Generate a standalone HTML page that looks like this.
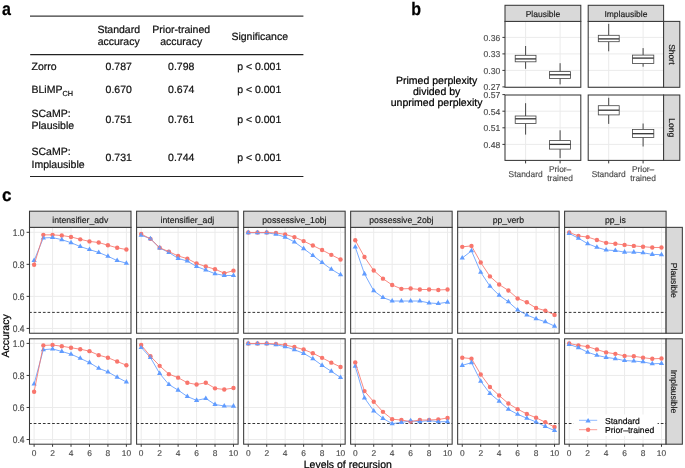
<!DOCTYPE html>
<html><head><meta charset="utf-8"><style>
html,body{margin:0;padding:0;background:#fff;}
svg{display:block;font-family:"Liberation Sans", sans-serif;text-rendering:geometricPrecision;}
#w{will-change:transform;width:685px;height:468px;}
</style></head><body><div id="w">
<svg width="685" height="468" viewBox="0 0 685 468">
<rect width="685" height="468" fill="#fff"/>
<g fill="#111" stroke="#111" stroke-width="0.22"><line x1="30" y1="16.1" x2="303.4" y2="16.1" stroke="#3a3a3a" stroke-width="1.4"/><line x1="30.2" y1="54.6" x2="303.4" y2="54.6" stroke="#222" stroke-width="1.2"/><line x1="30" y1="176.5" x2="303.4" y2="176.5" stroke="#222" stroke-width="1.2"/><text x="118.7" y="33" font-size="10.5" text-anchor="middle" >Standard</text><text x="118.7" y="44.8" font-size="10.5" text-anchor="middle" >accuracy</text><text x="181.2" y="33" font-size="10.5" text-anchor="middle" >Prior-trained</text><text x="181.2" y="44.8" font-size="10.5" text-anchor="middle" >accuracy</text><text x="259.7" y="39.6" font-size="10.5" text-anchor="middle" >Significance</text><text x="118.7" y="69.7" font-size="10.5" text-anchor="middle" >0.787</text><text x="181.2" y="69.7" font-size="10.5" text-anchor="middle" >0.798</text><text x="259.2" y="69.7" font-size="10.5" text-anchor="middle" >p &lt; 0.001</text><text x="31.5" y="69.7" font-size="10.5" text-anchor="start" >Zorro</text><text x="118.7" y="93.3" font-size="10.5" text-anchor="middle" >0.670</text><text x="181.2" y="93.3" font-size="10.5" text-anchor="middle" >0.674</text><text x="259.2" y="93.3" font-size="10.5" text-anchor="middle" >p &lt; 0.001</text><text x="31.5" y="93.3" font-size="10.5">BLiMP<tspan font-size="7.3" dy="2.5">CH</tspan></text><text x="118.7" y="123.0" font-size="10.5" text-anchor="middle" >0.751</text><text x="181.2" y="123.0" font-size="10.5" text-anchor="middle" >0.761</text><text x="259.2" y="123.0" font-size="10.5" text-anchor="middle" >p &lt; 0.001</text><text x="31.5" y="116.6" font-size="10.5" text-anchor="start" >SCaMP:</text><text x="31.5" y="129.4" font-size="10.5" text-anchor="start" >Plausible</text><text x="118.7" y="161.2" font-size="10.5" text-anchor="middle" >0.731</text><text x="181.2" y="161.2" font-size="10.5" text-anchor="middle" >0.744</text><text x="259.2" y="161.2" font-size="10.5" text-anchor="middle" >p &lt; 0.001</text><text x="31.5" y="154.79999999999998" font-size="10.5" text-anchor="start" >SCaMP:</text><text x="31.5" y="167.6" font-size="10.5" text-anchor="start" >Implausible</text></g>
<text transform="translate(1.9,14.6) scale(0.89,1)" font-size="18" font-weight="bold" fill="#000" stroke="#000" stroke-width="0.25">a</text>
<text transform="translate(411.2,14.6) scale(0.89,1)" font-size="18" font-weight="bold" fill="#000" stroke="#000" stroke-width="0.25">b</text>
<rect x="505.0" y="21.4" width="75.80" height="65.90" fill="#fff"/>
<line x1="505.0" y1="37.40" x2="580.8" y2="37.40" stroke="#EBEBEB" stroke-width="1"/>
<line x1="505.0" y1="53.90" x2="580.8" y2="53.90" stroke="#EBEBEB" stroke-width="1"/>
<line x1="505.0" y1="70.40" x2="580.8" y2="70.40" stroke="#EBEBEB" stroke-width="1"/>
<line x1="505.0" y1="86.90" x2="580.8" y2="86.90" stroke="#EBEBEB" stroke-width="1"/>
<line x1="525.6" y1="21.4" x2="525.6" y2="87.3" stroke="#EBEBEB" stroke-width="1"/>
<line x1="560.1" y1="21.4" x2="560.1" y2="87.3" stroke="#EBEBEB" stroke-width="1"/>
<line x1="525.6" y1="46.0" x2="525.6" y2="55.3" stroke="#333" stroke-width="0.9"/>
<line x1="525.6" y1="61.8" x2="525.6" y2="68.8" stroke="#333" stroke-width="0.9"/>
<rect x="515.2" y="55.3" width="20.80" height="6.50" fill="#fff" stroke="#444" stroke-width="0.8"/>
<line x1="515.2" y1="58.9" x2="536.0" y2="58.9" stroke="#333" stroke-width="1.3"/>
<line x1="560.1" y1="63.2" x2="560.1" y2="71.6" stroke="#333" stroke-width="0.9"/>
<line x1="560.1" y1="78.4" x2="560.1" y2="84.4" stroke="#333" stroke-width="0.9"/>
<rect x="549.5" y="71.6" width="21.10" height="6.80" fill="#fff" stroke="#444" stroke-width="0.8"/>
<line x1="549.5" y1="74.8" x2="570.6" y2="74.8" stroke="#333" stroke-width="1.3"/>
<rect x="505.0" y="21.4" width="75.80" height="65.90" fill="none" stroke="#383838" stroke-width="1.05"/>
<rect x="588.2" y="21.4" width="75.40" height="65.90" fill="#fff"/>
<line x1="588.2" y1="37.40" x2="663.6" y2="37.40" stroke="#EBEBEB" stroke-width="1"/>
<line x1="588.2" y1="53.90" x2="663.6" y2="53.90" stroke="#EBEBEB" stroke-width="1"/>
<line x1="588.2" y1="70.40" x2="663.6" y2="70.40" stroke="#EBEBEB" stroke-width="1"/>
<line x1="588.2" y1="86.90" x2="663.6" y2="86.90" stroke="#EBEBEB" stroke-width="1"/>
<line x1="608.7" y1="21.4" x2="608.7" y2="87.3" stroke="#EBEBEB" stroke-width="1"/>
<line x1="643.1" y1="21.4" x2="643.1" y2="87.3" stroke="#EBEBEB" stroke-width="1"/>
<line x1="608.7" y1="23.9" x2="608.7" y2="35.3" stroke="#333" stroke-width="0.9"/>
<line x1="608.7" y1="41.7" x2="608.7" y2="51.3" stroke="#333" stroke-width="0.9"/>
<rect x="598.3" y="35.3" width="20.90" height="6.40" fill="#fff" stroke="#444" stroke-width="0.8"/>
<line x1="598.3" y1="38.9" x2="619.2" y2="38.9" stroke="#333" stroke-width="1.3"/>
<line x1="643.1" y1="48.1" x2="643.1" y2="55.1" stroke="#333" stroke-width="0.9"/>
<line x1="643.1" y1="63.5" x2="643.1" y2="66.7" stroke="#333" stroke-width="0.9"/>
<rect x="632.5" y="55.1" width="21.30" height="8.40" fill="#fff" stroke="#444" stroke-width="0.8"/>
<line x1="632.5" y1="58.1" x2="653.8" y2="58.1" stroke="#333" stroke-width="1.3"/>
<rect x="588.2" y="21.4" width="75.40" height="65.90" fill="none" stroke="#383838" stroke-width="1.05"/>
<rect x="505.0" y="95.0" width="75.80" height="65.40" fill="#fff"/>
<line x1="505.0" y1="111.20" x2="580.8" y2="111.20" stroke="#EBEBEB" stroke-width="1"/>
<line x1="505.0" y1="127.80" x2="580.8" y2="127.80" stroke="#EBEBEB" stroke-width="1"/>
<line x1="505.0" y1="144.40" x2="580.8" y2="144.40" stroke="#EBEBEB" stroke-width="1"/>
<line x1="525.6" y1="95.0" x2="525.6" y2="160.4" stroke="#EBEBEB" stroke-width="1"/>
<line x1="560.1" y1="95.0" x2="560.1" y2="160.4" stroke="#EBEBEB" stroke-width="1"/>
<line x1="525.6" y1="103.2" x2="525.6" y2="116.0" stroke="#333" stroke-width="0.9"/>
<line x1="525.6" y1="123.5" x2="525.6" y2="134.6" stroke="#333" stroke-width="0.9"/>
<rect x="515.2" y="116.0" width="20.80" height="7.50" fill="#fff" stroke="#444" stroke-width="0.8"/>
<line x1="515.2" y1="118.8" x2="536.0" y2="118.8" stroke="#333" stroke-width="1.3"/>
<line x1="560.1" y1="130.3" x2="560.1" y2="140.6" stroke="#333" stroke-width="0.9"/>
<line x1="560.1" y1="149.1" x2="560.1" y2="158.1" stroke="#333" stroke-width="0.9"/>
<rect x="549.5" y="140.6" width="21.10" height="8.50" fill="#fff" stroke="#444" stroke-width="0.8"/>
<line x1="549.5" y1="144.4" x2="570.6" y2="144.4" stroke="#333" stroke-width="1.3"/>
<rect x="505.0" y="95.0" width="75.80" height="65.40" fill="none" stroke="#383838" stroke-width="1.05"/>
<rect x="588.2" y="95.0" width="75.40" height="65.40" fill="#fff"/>
<line x1="588.2" y1="111.20" x2="663.6" y2="111.20" stroke="#EBEBEB" stroke-width="1"/>
<line x1="588.2" y1="127.80" x2="663.6" y2="127.80" stroke="#EBEBEB" stroke-width="1"/>
<line x1="588.2" y1="144.40" x2="663.6" y2="144.40" stroke="#EBEBEB" stroke-width="1"/>
<line x1="608.7" y1="95.0" x2="608.7" y2="160.4" stroke="#EBEBEB" stroke-width="1"/>
<line x1="643.1" y1="95.0" x2="643.1" y2="160.4" stroke="#EBEBEB" stroke-width="1"/>
<line x1="608.7" y1="97.8" x2="608.7" y2="105.7" stroke="#333" stroke-width="0.9"/>
<line x1="608.7" y1="114.9" x2="608.7" y2="123.9" stroke="#333" stroke-width="0.9"/>
<rect x="598.3" y="105.7" width="20.90" height="9.20" fill="#fff" stroke="#444" stroke-width="0.8"/>
<line x1="598.3" y1="110.2" x2="619.2" y2="110.2" stroke="#333" stroke-width="1.3"/>
<line x1="643.1" y1="123.5" x2="643.1" y2="129.4" stroke="#333" stroke-width="0.9"/>
<line x1="643.1" y1="137.4" x2="643.1" y2="146.5" stroke="#333" stroke-width="0.9"/>
<rect x="632.5" y="129.4" width="21.30" height="8.00" fill="#fff" stroke="#444" stroke-width="0.8"/>
<line x1="632.5" y1="133.7" x2="653.8" y2="133.7" stroke="#333" stroke-width="1.3"/>
<rect x="588.2" y="95.0" width="75.40" height="65.40" fill="none" stroke="#383838" stroke-width="1.05"/>
<rect x="505.0" y="5.3" width="75.80" height="16.10" fill="#D9D9D9" stroke="#383838" stroke-width="1.05"/>
<text x="542.90" y="16.7" font-size="8.5" text-anchor="middle" fill="#1A1A1A" stroke="#1A1A1A" stroke-width="0.16">Plausible</text>
<rect x="588.2" y="5.3" width="75.40" height="16.10" fill="#D9D9D9" stroke="#383838" stroke-width="1.05"/>
<text x="625.90" y="16.7" font-size="8.5" text-anchor="middle" fill="#1A1A1A" stroke="#1A1A1A" stroke-width="0.16">Implausible</text>
<rect x="663.6" y="21.4" width="16.20" height="65.90" fill="#D9D9D9" stroke="#383838" stroke-width="1.05"/>
<text x="0" y="0" font-size="8.5" text-anchor="middle" fill="#1A1A1A" transform="translate(668.70,54.35) rotate(90)" stroke="#1A1A1A" stroke-width="0.16">Short</text>
<rect x="663.6" y="95.0" width="16.20" height="65.40" fill="#D9D9D9" stroke="#383838" stroke-width="1.05"/>
<text x="0" y="0" font-size="8.5" text-anchor="middle" fill="#1A1A1A" transform="translate(668.70,127.70) rotate(90)" stroke="#1A1A1A" stroke-width="0.16">Long</text>
<line x1="502.4" y1="37.40" x2="505" y2="37.40" stroke="#383838" stroke-width="1"/>
<text x="500.3" y="40.80" font-size="8.6" text-anchor="end" fill="#4D4D4D" stroke="#4D4D4D" stroke-width="0.16">0.36</text>
<line x1="502.4" y1="53.90" x2="505" y2="53.90" stroke="#383838" stroke-width="1"/>
<text x="500.3" y="57.30" font-size="8.6" text-anchor="end" fill="#4D4D4D" stroke="#4D4D4D" stroke-width="0.16">0.33</text>
<line x1="502.4" y1="70.40" x2="505" y2="70.40" stroke="#383838" stroke-width="1"/>
<text x="500.3" y="73.80" font-size="8.6" text-anchor="end" fill="#4D4D4D" stroke="#4D4D4D" stroke-width="0.16">0.30</text>
<line x1="502.4" y1="86.90" x2="505" y2="86.90" stroke="#383838" stroke-width="1"/>
<text x="500.3" y="90.30" font-size="8.6" text-anchor="end" fill="#4D4D4D" stroke="#4D4D4D" stroke-width="0.16">0.27</text>
<line x1="502.4" y1="94.60" x2="505" y2="94.60" stroke="#383838" stroke-width="1"/>
<text x="500.3" y="98.00" font-size="8.6" text-anchor="end" fill="#4D4D4D" stroke="#4D4D4D" stroke-width="0.16">0.57</text>
<line x1="502.4" y1="111.20" x2="505" y2="111.20" stroke="#383838" stroke-width="1"/>
<text x="500.3" y="114.60" font-size="8.6" text-anchor="end" fill="#4D4D4D" stroke="#4D4D4D" stroke-width="0.16">0.54</text>
<line x1="502.4" y1="127.80" x2="505" y2="127.80" stroke="#383838" stroke-width="1"/>
<text x="500.3" y="131.20" font-size="8.6" text-anchor="end" fill="#4D4D4D" stroke="#4D4D4D" stroke-width="0.16">0.51</text>
<line x1="502.4" y1="144.40" x2="505" y2="144.40" stroke="#383838" stroke-width="1"/>
<text x="500.3" y="147.80" font-size="8.6" text-anchor="end" fill="#4D4D4D" stroke="#4D4D4D" stroke-width="0.16">0.48</text>
<line x1="525.6" y1="160.4" x2="525.6" y2="163.4" stroke="#383838" stroke-width="1"/>
<text x="525.6" y="177" font-size="8.4" text-anchor="middle" fill="#4D4D4D" stroke="#4D4D4D" stroke-width="0.16">Standard</text>
<line x1="560.1" y1="160.4" x2="560.1" y2="163.4" stroke="#383838" stroke-width="1"/>
<text x="560.1" y="172.3" font-size="8.4" text-anchor="middle" fill="#4D4D4D" stroke="#4D4D4D" stroke-width="0.16">Prior&#8211;</text>
<text x="560.1" y="181.3" font-size="8.4" text-anchor="middle" fill="#4D4D4D" stroke="#4D4D4D" stroke-width="0.16">trained</text>
<line x1="608.7" y1="160.4" x2="608.7" y2="163.4" stroke="#383838" stroke-width="1"/>
<text x="608.7" y="177" font-size="8.4" text-anchor="middle" fill="#4D4D4D" stroke="#4D4D4D" stroke-width="0.16">Standard</text>
<line x1="643.1" y1="160.4" x2="643.1" y2="163.4" stroke="#383838" stroke-width="1"/>
<text x="643.1" y="172.3" font-size="8.4" text-anchor="middle" fill="#4D4D4D" stroke="#4D4D4D" stroke-width="0.16">Prior&#8211;</text>
<text x="643.1" y="181.3" font-size="8.4" text-anchor="middle" fill="#4D4D4D" stroke="#4D4D4D" stroke-width="0.16">trained</text>
<text x="436.6" y="84.20" font-size="10.5" text-anchor="middle" fill="#000" stroke="#000" stroke-width="0.22">Primed perplexity</text>
<text x="436.6" y="95.20" font-size="10.5" text-anchor="middle" fill="#000" stroke="#000" stroke-width="0.22">divided by</text>
<text x="436.6" y="106.20" font-size="10.5" text-anchor="middle" fill="#000" stroke="#000" stroke-width="0.22">unprimed perplexity</text>
<text transform="translate(2.0,200.5) scale(0.95,1)" font-size="18" font-weight="bold" fill="#000" stroke="#000" stroke-width="0.25">c</text>
<rect x="29.50" y="227.35" width="101.50" height="105.90" fill="#fff"/>
<line x1="29.50" y1="232.30" x2="131.00" y2="232.30" stroke="#EBEBEB" stroke-width="1"/>
<line x1="29.50" y1="264.34" x2="131.00" y2="264.34" stroke="#EBEBEB" stroke-width="1"/>
<line x1="29.50" y1="296.38" x2="131.00" y2="296.38" stroke="#EBEBEB" stroke-width="1"/>
<line x1="29.50" y1="328.42" x2="131.00" y2="328.42" stroke="#EBEBEB" stroke-width="1"/>
<line x1="34.11" y1="227.35" x2="34.11" y2="333.25" stroke="#EBEBEB" stroke-width="1"/>
<line x1="52.57" y1="227.35" x2="52.57" y2="333.25" stroke="#EBEBEB" stroke-width="1"/>
<line x1="71.02" y1="227.35" x2="71.02" y2="333.25" stroke="#EBEBEB" stroke-width="1"/>
<line x1="89.48" y1="227.35" x2="89.48" y2="333.25" stroke="#EBEBEB" stroke-width="1"/>
<line x1="107.93" y1="227.35" x2="107.93" y2="333.25" stroke="#EBEBEB" stroke-width="1"/>
<line x1="126.39" y1="227.35" x2="126.39" y2="333.25" stroke="#EBEBEB" stroke-width="1"/>
<line x1="29.50" y1="312.40" x2="131.00" y2="312.40" stroke="#2a2a2a" stroke-width="0.95" stroke-dasharray="2.7 1.9" stroke-dashoffset="0.4"/>
<circle cx="34.11" cy="264.74" r="2.2" fill="#F8766D"/>
<circle cx="43.34" cy="234.86" r="2.2" fill="#F8766D"/>
<circle cx="52.57" cy="234.86" r="2.2" fill="#F8766D"/>
<circle cx="61.80" cy="235.50" r="2.2" fill="#F8766D"/>
<circle cx="71.02" cy="236.93" r="2.2" fill="#F8766D"/>
<circle cx="80.25" cy="239.33" r="2.2" fill="#F8766D"/>
<circle cx="89.48" cy="241.41" r="2.2" fill="#F8766D"/>
<circle cx="98.70" cy="242.53" r="2.2" fill="#F8766D"/>
<circle cx="107.93" cy="245.24" r="2.2" fill="#F8766D"/>
<circle cx="117.16" cy="247.80" r="2.2" fill="#F8766D"/>
<circle cx="126.39" cy="249.56" r="2.2" fill="#F8766D"/>
<path d="M34.11,257.57 L36.74,262.12 L31.49,262.12 Z" fill="#619CFF"/>
<path d="M43.34,234.88 L45.97,239.43 L40.71,239.43 Z" fill="#619CFF"/>
<path d="M52.57,234.56 L55.19,239.11 L49.94,239.11 Z" fill="#619CFF"/>
<path d="M61.80,236.64 L64.42,241.19 L59.17,241.19 Z" fill="#619CFF"/>
<path d="M71.02,239.68 L73.65,244.22 L68.40,244.22 Z" fill="#619CFF"/>
<path d="M80.25,243.51 L82.88,248.06 L77.62,248.06 Z" fill="#619CFF"/>
<path d="M89.48,246.55 L92.10,251.10 L86.85,251.10 Z" fill="#619CFF"/>
<path d="M98.70,249.42 L101.33,253.97 L96.08,253.97 Z" fill="#619CFF"/>
<path d="M107.93,253.26 L110.56,257.81 L105.31,257.81 Z" fill="#619CFF"/>
<path d="M117.16,257.57 L119.79,262.12 L114.53,262.12 Z" fill="#619CFF"/>
<path d="M126.39,260.13 L129.01,264.68 L123.76,264.68 Z" fill="#619CFF"/>
<polyline points="34.11,260.61 43.34,237.91 52.57,237.59 61.80,239.67 71.02,242.71 80.25,246.54 89.48,249.58 98.70,252.46 107.93,256.29 117.16,260.61 126.39,263.16" fill="none" stroke="#619CFF" stroke-width="0.85"/>
<polyline points="34.11,264.74 43.34,234.86 52.57,234.86 61.80,235.50 71.02,236.93 80.25,239.33 89.48,241.41 98.70,242.53 107.93,245.24 117.16,247.80 126.39,249.56" fill="none" stroke="#F8766D" stroke-width="0.85"/>
<rect x="29.50" y="227.35" width="101.50" height="105.90" fill="none" stroke="#383838" stroke-width="1.05"/>
<rect x="136.60" y="227.35" width="101.50" height="105.90" fill="#fff"/>
<line x1="136.60" y1="232.30" x2="238.10" y2="232.30" stroke="#EBEBEB" stroke-width="1"/>
<line x1="136.60" y1="264.34" x2="238.10" y2="264.34" stroke="#EBEBEB" stroke-width="1"/>
<line x1="136.60" y1="296.38" x2="238.10" y2="296.38" stroke="#EBEBEB" stroke-width="1"/>
<line x1="136.60" y1="328.42" x2="238.10" y2="328.42" stroke="#EBEBEB" stroke-width="1"/>
<line x1="141.21" y1="227.35" x2="141.21" y2="333.25" stroke="#EBEBEB" stroke-width="1"/>
<line x1="159.67" y1="227.35" x2="159.67" y2="333.25" stroke="#EBEBEB" stroke-width="1"/>
<line x1="178.12" y1="227.35" x2="178.12" y2="333.25" stroke="#EBEBEB" stroke-width="1"/>
<line x1="196.58" y1="227.35" x2="196.58" y2="333.25" stroke="#EBEBEB" stroke-width="1"/>
<line x1="215.03" y1="227.35" x2="215.03" y2="333.25" stroke="#EBEBEB" stroke-width="1"/>
<line x1="233.49" y1="227.35" x2="233.49" y2="333.25" stroke="#EBEBEB" stroke-width="1"/>
<line x1="136.60" y1="312.40" x2="238.10" y2="312.40" stroke="#2a2a2a" stroke-width="0.95" stroke-dasharray="2.7 1.9" stroke-dashoffset="0.4"/>
<circle cx="141.21" cy="234.06" r="2.2" fill="#F8766D"/>
<circle cx="150.44" cy="238.85" r="2.2" fill="#F8766D"/>
<circle cx="159.67" cy="247.80" r="2.2" fill="#F8766D"/>
<circle cx="168.90" cy="251.64" r="2.2" fill="#F8766D"/>
<circle cx="178.12" cy="255.95" r="2.2" fill="#F8766D"/>
<circle cx="187.35" cy="258.67" r="2.2" fill="#F8766D"/>
<circle cx="196.58" cy="263.46" r="2.2" fill="#F8766D"/>
<circle cx="205.80" cy="266.50" r="2.2" fill="#F8766D"/>
<circle cx="215.03" cy="269.21" r="2.2" fill="#F8766D"/>
<circle cx="224.26" cy="273.21" r="2.2" fill="#F8766D"/>
<circle cx="233.49" cy="270.65" r="2.2" fill="#F8766D"/>
<path d="M141.21,232.16 L143.84,236.71 L138.59,236.71 Z" fill="#619CFF"/>
<path d="M150.44,235.68 L153.07,240.23 L147.81,240.23 Z" fill="#619CFF"/>
<path d="M159.67,244.95 L162.29,249.50 L157.04,249.50 Z" fill="#619CFF"/>
<path d="M168.90,249.42 L171.52,253.97 L166.27,253.97 Z" fill="#619CFF"/>
<path d="M178.12,255.34 L180.75,259.89 L175.50,259.89 Z" fill="#619CFF"/>
<path d="M187.35,258.05 L189.98,262.60 L184.72,262.60 Z" fill="#619CFF"/>
<path d="M196.58,263.49 L199.20,268.03 L193.95,268.03 Z" fill="#619CFF"/>
<path d="M205.80,267.00 L208.43,271.55 L203.18,271.55 Z" fill="#619CFF"/>
<path d="M215.03,270.68 L217.66,275.23 L212.41,275.23 Z" fill="#619CFF"/>
<path d="M224.26,272.43 L226.89,276.98 L221.63,276.98 Z" fill="#619CFF"/>
<path d="M233.49,272.43 L236.11,276.98 L230.86,276.98 Z" fill="#619CFF"/>
<polyline points="141.21,235.20 150.44,238.71 159.67,247.98 168.90,252.46 178.12,258.37 187.35,261.08 196.58,266.52 205.80,270.03 215.03,273.71 224.26,275.47 233.49,275.47" fill="none" stroke="#619CFF" stroke-width="0.85"/>
<polyline points="141.21,234.06 150.44,238.85 159.67,247.80 168.90,251.64 178.12,255.95 187.35,258.67 196.58,263.46 205.80,266.50 215.03,269.21 224.26,273.21 233.49,270.65" fill="none" stroke="#F8766D" stroke-width="0.85"/>
<rect x="136.60" y="227.35" width="101.50" height="105.90" fill="none" stroke="#383838" stroke-width="1.05"/>
<rect x="243.65" y="227.35" width="101.50" height="105.90" fill="#fff"/>
<line x1="243.65" y1="232.30" x2="345.15" y2="232.30" stroke="#EBEBEB" stroke-width="1"/>
<line x1="243.65" y1="264.34" x2="345.15" y2="264.34" stroke="#EBEBEB" stroke-width="1"/>
<line x1="243.65" y1="296.38" x2="345.15" y2="296.38" stroke="#EBEBEB" stroke-width="1"/>
<line x1="243.65" y1="328.42" x2="345.15" y2="328.42" stroke="#EBEBEB" stroke-width="1"/>
<line x1="248.26" y1="227.35" x2="248.26" y2="333.25" stroke="#EBEBEB" stroke-width="1"/>
<line x1="266.72" y1="227.35" x2="266.72" y2="333.25" stroke="#EBEBEB" stroke-width="1"/>
<line x1="285.17" y1="227.35" x2="285.17" y2="333.25" stroke="#EBEBEB" stroke-width="1"/>
<line x1="303.63" y1="227.35" x2="303.63" y2="333.25" stroke="#EBEBEB" stroke-width="1"/>
<line x1="322.08" y1="227.35" x2="322.08" y2="333.25" stroke="#EBEBEB" stroke-width="1"/>
<line x1="340.54" y1="227.35" x2="340.54" y2="333.25" stroke="#EBEBEB" stroke-width="1"/>
<line x1="243.65" y1="312.40" x2="345.15" y2="312.40" stroke="#2a2a2a" stroke-width="0.95" stroke-dasharray="2.7 1.9" stroke-dashoffset="0.4"/>
<circle cx="248.26" cy="232.46" r="2.2" fill="#F8766D"/>
<circle cx="257.49" cy="232.46" r="2.2" fill="#F8766D"/>
<circle cx="266.72" cy="232.46" r="2.2" fill="#F8766D"/>
<circle cx="275.95" cy="232.94" r="2.2" fill="#F8766D"/>
<circle cx="285.17" cy="234.38" r="2.2" fill="#F8766D"/>
<circle cx="294.40" cy="237.09" r="2.2" fill="#F8766D"/>
<circle cx="303.63" cy="241.09" r="2.2" fill="#F8766D"/>
<circle cx="312.85" cy="245.56" r="2.2" fill="#F8766D"/>
<circle cx="322.08" cy="250.04" r="2.2" fill="#F8766D"/>
<circle cx="331.31" cy="254.83" r="2.2" fill="#F8766D"/>
<circle cx="340.54" cy="259.47" r="2.2" fill="#F8766D"/>
<path d="M248.26,229.77 L250.89,234.32 L245.64,234.32 Z" fill="#619CFF"/>
<path d="M257.49,229.77 L260.12,234.32 L254.86,234.32 Z" fill="#619CFF"/>
<path d="M266.72,229.77 L269.34,234.32 L264.09,234.32 Z" fill="#619CFF"/>
<path d="M275.95,231.21 L278.57,235.76 L273.32,235.76 Z" fill="#619CFF"/>
<path d="M285.17,234.08 L287.80,238.63 L282.55,238.63 Z" fill="#619CFF"/>
<path d="M294.40,238.88 L297.03,243.43 L291.77,243.43 Z" fill="#619CFF"/>
<path d="M303.63,245.59 L306.25,250.14 L301.00,250.14 Z" fill="#619CFF"/>
<path d="M312.85,252.46 L315.48,257.01 L310.23,257.01 Z" fill="#619CFF"/>
<path d="M322.08,259.49 L324.71,264.04 L319.46,264.04 Z" fill="#619CFF"/>
<path d="M331.31,266.20 L333.94,270.75 L328.68,270.75 Z" fill="#619CFF"/>
<path d="M340.54,271.80 L343.16,276.34 L337.91,276.34 Z" fill="#619CFF"/>
<polyline points="248.26,232.80 257.49,232.80 266.72,232.80 275.95,234.24 285.17,237.11 294.40,241.91 303.63,248.62 312.85,255.49 322.08,262.52 331.31,269.23 340.54,274.83" fill="none" stroke="#619CFF" stroke-width="0.85"/>
<polyline points="248.26,232.46 257.49,232.46 266.72,232.46 275.95,232.94 285.17,234.38 294.40,237.09 303.63,241.09 312.85,245.56 322.08,250.04 331.31,254.83 340.54,259.47" fill="none" stroke="#F8766D" stroke-width="0.85"/>
<rect x="243.65" y="227.35" width="101.50" height="105.90" fill="none" stroke="#383838" stroke-width="1.05"/>
<rect x="350.65" y="227.35" width="101.50" height="105.90" fill="#fff"/>
<line x1="350.65" y1="232.30" x2="452.15" y2="232.30" stroke="#EBEBEB" stroke-width="1"/>
<line x1="350.65" y1="264.34" x2="452.15" y2="264.34" stroke="#EBEBEB" stroke-width="1"/>
<line x1="350.65" y1="296.38" x2="452.15" y2="296.38" stroke="#EBEBEB" stroke-width="1"/>
<line x1="350.65" y1="328.42" x2="452.15" y2="328.42" stroke="#EBEBEB" stroke-width="1"/>
<line x1="355.26" y1="227.35" x2="355.26" y2="333.25" stroke="#EBEBEB" stroke-width="1"/>
<line x1="373.72" y1="227.35" x2="373.72" y2="333.25" stroke="#EBEBEB" stroke-width="1"/>
<line x1="392.17" y1="227.35" x2="392.17" y2="333.25" stroke="#EBEBEB" stroke-width="1"/>
<line x1="410.63" y1="227.35" x2="410.63" y2="333.25" stroke="#EBEBEB" stroke-width="1"/>
<line x1="429.08" y1="227.35" x2="429.08" y2="333.25" stroke="#EBEBEB" stroke-width="1"/>
<line x1="447.54" y1="227.35" x2="447.54" y2="333.25" stroke="#EBEBEB" stroke-width="1"/>
<line x1="350.65" y1="312.40" x2="452.15" y2="312.40" stroke="#2a2a2a" stroke-width="0.95" stroke-dasharray="2.7 1.9" stroke-dashoffset="0.4"/>
<circle cx="355.26" cy="240.29" r="2.2" fill="#F8766D"/>
<circle cx="364.49" cy="257.07" r="2.2" fill="#F8766D"/>
<circle cx="373.72" cy="270.49" r="2.2" fill="#F8766D"/>
<circle cx="382.95" cy="278.64" r="2.2" fill="#F8766D"/>
<circle cx="392.17" cy="285.03" r="2.2" fill="#F8766D"/>
<circle cx="401.40" cy="288.87" r="2.2" fill="#F8766D"/>
<circle cx="410.63" cy="288.55" r="2.2" fill="#F8766D"/>
<circle cx="419.85" cy="289.51" r="2.2" fill="#F8766D"/>
<circle cx="429.08" cy="289.51" r="2.2" fill="#F8766D"/>
<circle cx="438.31" cy="289.99" r="2.2" fill="#F8766D"/>
<circle cx="447.54" cy="289.51" r="2.2" fill="#F8766D"/>
<path d="M355.26,243.99 L357.89,248.54 L352.64,248.54 Z" fill="#619CFF"/>
<path d="M364.49,270.84 L367.12,275.39 L361.86,275.39 Z" fill="#619CFF"/>
<path d="M373.72,287.78 L376.34,292.32 L371.09,292.32 Z" fill="#619CFF"/>
<path d="M382.95,294.49 L385.57,299.04 L380.32,299.04 Z" fill="#619CFF"/>
<path d="M392.17,298.00 L394.80,302.55 L389.55,302.55 Z" fill="#619CFF"/>
<path d="M401.40,298.00 L404.03,302.55 L398.77,302.55 Z" fill="#619CFF"/>
<path d="M410.63,298.00 L413.25,302.55 L408.00,302.55 Z" fill="#619CFF"/>
<path d="M419.85,298.00 L422.48,302.55 L417.23,302.55 Z" fill="#619CFF"/>
<path d="M429.08,299.92 L431.71,304.47 L426.46,304.47 Z" fill="#619CFF"/>
<path d="M438.31,300.56 L440.94,305.11 L435.68,305.11 Z" fill="#619CFF"/>
<path d="M447.54,299.12 L450.16,303.67 L444.91,303.67 Z" fill="#619CFF"/>
<polyline points="355.26,247.02 364.49,273.87 373.72,290.81 382.95,297.52 392.17,301.03 401.40,301.03 410.63,301.03 419.85,301.03 429.08,302.95 438.31,303.59 447.54,302.15" fill="none" stroke="#619CFF" stroke-width="0.85"/>
<polyline points="355.26,240.29 364.49,257.07 373.72,270.49 382.95,278.64 392.17,285.03 401.40,288.87 410.63,288.55 419.85,289.51 429.08,289.51 438.31,289.99 447.54,289.51" fill="none" stroke="#F8766D" stroke-width="0.85"/>
<rect x="350.65" y="227.35" width="101.50" height="105.90" fill="none" stroke="#383838" stroke-width="1.05"/>
<rect x="457.65" y="227.35" width="101.50" height="105.90" fill="#fff"/>
<line x1="457.65" y1="232.30" x2="559.15" y2="232.30" stroke="#EBEBEB" stroke-width="1"/>
<line x1="457.65" y1="264.34" x2="559.15" y2="264.34" stroke="#EBEBEB" stroke-width="1"/>
<line x1="457.65" y1="296.38" x2="559.15" y2="296.38" stroke="#EBEBEB" stroke-width="1"/>
<line x1="457.65" y1="328.42" x2="559.15" y2="328.42" stroke="#EBEBEB" stroke-width="1"/>
<line x1="462.26" y1="227.35" x2="462.26" y2="333.25" stroke="#EBEBEB" stroke-width="1"/>
<line x1="480.72" y1="227.35" x2="480.72" y2="333.25" stroke="#EBEBEB" stroke-width="1"/>
<line x1="499.17" y1="227.35" x2="499.17" y2="333.25" stroke="#EBEBEB" stroke-width="1"/>
<line x1="517.63" y1="227.35" x2="517.63" y2="333.25" stroke="#EBEBEB" stroke-width="1"/>
<line x1="536.08" y1="227.35" x2="536.08" y2="333.25" stroke="#EBEBEB" stroke-width="1"/>
<line x1="554.54" y1="227.35" x2="554.54" y2="333.25" stroke="#EBEBEB" stroke-width="1"/>
<line x1="457.65" y1="312.40" x2="559.15" y2="312.40" stroke="#2a2a2a" stroke-width="0.95" stroke-dasharray="2.7 1.9" stroke-dashoffset="0.4"/>
<circle cx="462.26" cy="246.84" r="2.2" fill="#F8766D"/>
<circle cx="471.49" cy="245.88" r="2.2" fill="#F8766D"/>
<circle cx="480.72" cy="262.50" r="2.2" fill="#F8766D"/>
<circle cx="489.95" cy="276.40" r="2.2" fill="#F8766D"/>
<circle cx="499.17" cy="284.55" r="2.2" fill="#F8766D"/>
<circle cx="508.40" cy="290.47" r="2.2" fill="#F8766D"/>
<circle cx="517.63" cy="298.46" r="2.2" fill="#F8766D"/>
<circle cx="526.85" cy="302.29" r="2.2" fill="#F8766D"/>
<circle cx="536.08" cy="308.05" r="2.2" fill="#F8766D"/>
<circle cx="545.31" cy="310.60" r="2.2" fill="#F8766D"/>
<circle cx="554.54" cy="314.92" r="2.2" fill="#F8766D"/>
<path d="M462.26,255.02 L464.89,259.57 L459.64,259.57 Z" fill="#619CFF"/>
<path d="M471.49,247.83 L474.12,252.37 L468.86,252.37 Z" fill="#619CFF"/>
<path d="M480.72,269.24 L483.34,273.79 L478.09,273.79 Z" fill="#619CFF"/>
<path d="M489.95,283.14 L492.57,287.69 L487.32,287.69 Z" fill="#619CFF"/>
<path d="M499.17,292.25 L501.80,296.80 L496.55,296.80 Z" fill="#619CFF"/>
<path d="M508.40,298.80 L511.03,303.35 L505.77,303.35 Z" fill="#619CFF"/>
<path d="M517.63,306.95 L520.25,311.50 L515.00,311.50 Z" fill="#619CFF"/>
<path d="M526.85,311.90 L529.48,316.45 L524.23,316.45 Z" fill="#619CFF"/>
<path d="M536.08,315.74 L538.71,320.29 L533.46,320.29 Z" fill="#619CFF"/>
<path d="M545.31,318.78 L547.94,323.33 L542.68,323.33 Z" fill="#619CFF"/>
<path d="M554.54,323.09 L557.16,327.64 L551.91,327.64 Z" fill="#619CFF"/>
<polyline points="462.26,258.05 471.49,250.86 480.72,272.27 489.95,286.17 499.17,295.28 508.40,301.83 517.63,309.98 526.85,314.94 536.08,318.77 545.31,321.81 554.54,326.12" fill="none" stroke="#619CFF" stroke-width="0.85"/>
<polyline points="462.26,246.84 471.49,245.88 480.72,262.50 489.95,276.40 499.17,284.55 508.40,290.47 517.63,298.46 526.85,302.29 536.08,308.05 545.31,310.60 554.54,314.92" fill="none" stroke="#F8766D" stroke-width="0.85"/>
<rect x="457.65" y="227.35" width="101.50" height="105.90" fill="none" stroke="#383838" stroke-width="1.05"/>
<rect x="564.60" y="227.35" width="101.50" height="105.90" fill="#fff"/>
<line x1="564.60" y1="232.30" x2="666.10" y2="232.30" stroke="#EBEBEB" stroke-width="1"/>
<line x1="564.60" y1="264.34" x2="666.10" y2="264.34" stroke="#EBEBEB" stroke-width="1"/>
<line x1="564.60" y1="296.38" x2="666.10" y2="296.38" stroke="#EBEBEB" stroke-width="1"/>
<line x1="564.60" y1="328.42" x2="666.10" y2="328.42" stroke="#EBEBEB" stroke-width="1"/>
<line x1="569.21" y1="227.35" x2="569.21" y2="333.25" stroke="#EBEBEB" stroke-width="1"/>
<line x1="587.67" y1="227.35" x2="587.67" y2="333.25" stroke="#EBEBEB" stroke-width="1"/>
<line x1="606.12" y1="227.35" x2="606.12" y2="333.25" stroke="#EBEBEB" stroke-width="1"/>
<line x1="624.58" y1="227.35" x2="624.58" y2="333.25" stroke="#EBEBEB" stroke-width="1"/>
<line x1="643.03" y1="227.35" x2="643.03" y2="333.25" stroke="#EBEBEB" stroke-width="1"/>
<line x1="661.49" y1="227.35" x2="661.49" y2="333.25" stroke="#EBEBEB" stroke-width="1"/>
<line x1="564.60" y1="312.40" x2="666.10" y2="312.40" stroke="#2a2a2a" stroke-width="0.95" stroke-dasharray="2.7 1.9" stroke-dashoffset="0.4"/>
<circle cx="569.21" cy="232.46" r="2.2" fill="#F8766D"/>
<circle cx="578.44" cy="235.98" r="2.2" fill="#F8766D"/>
<circle cx="587.67" cy="237.09" r="2.2" fill="#F8766D"/>
<circle cx="596.90" cy="239.97" r="2.2" fill="#F8766D"/>
<circle cx="606.12" cy="242.85" r="2.2" fill="#F8766D"/>
<circle cx="615.35" cy="243.81" r="2.2" fill="#F8766D"/>
<circle cx="624.58" cy="244.92" r="2.2" fill="#F8766D"/>
<circle cx="633.80" cy="245.88" r="2.2" fill="#F8766D"/>
<circle cx="643.03" cy="246.68" r="2.2" fill="#F8766D"/>
<circle cx="652.26" cy="247.48" r="2.2" fill="#F8766D"/>
<circle cx="661.49" cy="247.48" r="2.2" fill="#F8766D"/>
<path d="M569.21,230.41 L571.84,234.96 L566.59,234.96 Z" fill="#619CFF"/>
<path d="M578.44,235.20 L581.07,239.75 L575.81,239.75 Z" fill="#619CFF"/>
<path d="M587.67,240.63 L590.29,245.18 L585.04,245.18 Z" fill="#619CFF"/>
<path d="M596.90,244.31 L599.52,248.86 L594.27,248.86 Z" fill="#619CFF"/>
<path d="M606.12,247.03 L608.75,251.58 L603.50,251.58 Z" fill="#619CFF"/>
<path d="M615.35,247.51 L617.98,252.05 L612.72,252.05 Z" fill="#619CFF"/>
<path d="M624.58,249.10 L627.20,253.65 L621.95,253.65 Z" fill="#619CFF"/>
<path d="M633.80,249.10 L636.43,253.65 L631.18,253.65 Z" fill="#619CFF"/>
<path d="M643.03,249.74 L645.66,254.29 L640.41,254.29 Z" fill="#619CFF"/>
<path d="M652.26,251.34 L654.89,255.89 L649.63,255.89 Z" fill="#619CFF"/>
<path d="M661.49,251.66 L664.11,256.21 L658.86,256.21 Z" fill="#619CFF"/>
<polyline points="569.21,233.44 578.44,238.23 587.67,243.67 596.90,247.34 606.12,250.06 615.35,250.54 624.58,252.14 633.80,252.14 643.03,252.78 652.26,254.37 661.49,254.69" fill="none" stroke="#619CFF" stroke-width="0.85"/>
<polyline points="569.21,232.46 578.44,235.98 587.67,237.09 596.90,239.97 606.12,242.85 615.35,243.81 624.58,244.92 633.80,245.88 643.03,246.68 652.26,247.48 661.49,247.48" fill="none" stroke="#F8766D" stroke-width="0.85"/>
<rect x="564.60" y="227.35" width="101.50" height="105.90" fill="none" stroke="#383838" stroke-width="1.05"/>
<rect x="29.50" y="338.8" width="101.50" height="105.40" fill="#fff"/>
<line x1="29.50" y1="343.40" x2="131.00" y2="343.40" stroke="#EBEBEB" stroke-width="1"/>
<line x1="29.50" y1="375.44" x2="131.00" y2="375.44" stroke="#EBEBEB" stroke-width="1"/>
<line x1="29.50" y1="407.48" x2="131.00" y2="407.48" stroke="#EBEBEB" stroke-width="1"/>
<line x1="29.50" y1="439.52" x2="131.00" y2="439.52" stroke="#EBEBEB" stroke-width="1"/>
<line x1="34.11" y1="338.8" x2="34.11" y2="444.2" stroke="#EBEBEB" stroke-width="1"/>
<line x1="52.57" y1="338.8" x2="52.57" y2="444.2" stroke="#EBEBEB" stroke-width="1"/>
<line x1="71.02" y1="338.8" x2="71.02" y2="444.2" stroke="#EBEBEB" stroke-width="1"/>
<line x1="89.48" y1="338.8" x2="89.48" y2="444.2" stroke="#EBEBEB" stroke-width="1"/>
<line x1="107.93" y1="338.8" x2="107.93" y2="444.2" stroke="#EBEBEB" stroke-width="1"/>
<line x1="126.39" y1="338.8" x2="126.39" y2="444.2" stroke="#EBEBEB" stroke-width="1"/>
<line x1="29.50" y1="423.50" x2="131.00" y2="423.50" stroke="#2a2a2a" stroke-width="0.95" stroke-dasharray="2.7 1.9" stroke-dashoffset="0.4"/>
<circle cx="34.11" cy="391.72" r="2.2" fill="#F8766D"/>
<circle cx="43.34" cy="345.38" r="2.2" fill="#F8766D"/>
<circle cx="52.57" cy="345.06" r="2.2" fill="#F8766D"/>
<circle cx="61.80" cy="346.18" r="2.2" fill="#F8766D"/>
<circle cx="71.02" cy="347.77" r="2.2" fill="#F8766D"/>
<circle cx="80.25" cy="349.21" r="2.2" fill="#F8766D"/>
<circle cx="89.48" cy="351.13" r="2.2" fill="#F8766D"/>
<circle cx="98.70" cy="355.13" r="2.2" fill="#F8766D"/>
<circle cx="107.93" cy="357.68" r="2.2" fill="#F8766D"/>
<circle cx="117.16" cy="361.52" r="2.2" fill="#F8766D"/>
<circle cx="126.39" cy="365.19" r="2.2" fill="#F8766D"/>
<path d="M34.11,380.88 L36.74,385.43 L31.49,385.43 Z" fill="#619CFF"/>
<path d="M43.34,346.68 L45.97,351.23 L40.71,351.23 Z" fill="#619CFF"/>
<path d="M52.57,345.88 L55.19,350.43 L49.94,350.43 Z" fill="#619CFF"/>
<path d="M61.80,348.44 L64.42,352.99 L59.17,352.99 Z" fill="#619CFF"/>
<path d="M71.02,351.15 L73.65,355.70 L68.40,355.70 Z" fill="#619CFF"/>
<path d="M80.25,355.31 L82.88,359.86 L77.62,359.86 Z" fill="#619CFF"/>
<path d="M89.48,359.62 L92.10,364.17 L86.85,364.17 Z" fill="#619CFF"/>
<path d="M98.70,365.22 L101.33,369.77 L96.08,369.77 Z" fill="#619CFF"/>
<path d="M107.93,368.89 L110.56,373.44 L105.31,373.44 Z" fill="#619CFF"/>
<path d="M117.16,374.17 L119.79,378.72 L114.53,378.72 Z" fill="#619CFF"/>
<path d="M126.39,378.96 L129.01,383.51 L123.76,383.51 Z" fill="#619CFF"/>
<polyline points="34.11,383.91 43.34,349.71 52.57,348.91 61.80,351.47 71.02,354.19 80.25,358.34 89.48,362.66 98.70,368.25 107.93,371.92 117.16,377.20 126.39,381.99" fill="none" stroke="#619CFF" stroke-width="0.85"/>
<polyline points="34.11,391.72 43.34,345.38 52.57,345.06 61.80,346.18 71.02,347.77 80.25,349.21 89.48,351.13 98.70,355.13 107.93,357.68 117.16,361.52 126.39,365.19" fill="none" stroke="#F8766D" stroke-width="0.85"/>
<rect x="29.50" y="338.8" width="101.50" height="105.40" fill="none" stroke="#383838" stroke-width="1.05"/>
<rect x="136.60" y="338.8" width="101.50" height="105.40" fill="#fff"/>
<line x1="136.60" y1="343.40" x2="238.10" y2="343.40" stroke="#EBEBEB" stroke-width="1"/>
<line x1="136.60" y1="375.44" x2="238.10" y2="375.44" stroke="#EBEBEB" stroke-width="1"/>
<line x1="136.60" y1="407.48" x2="238.10" y2="407.48" stroke="#EBEBEB" stroke-width="1"/>
<line x1="136.60" y1="439.52" x2="238.10" y2="439.52" stroke="#EBEBEB" stroke-width="1"/>
<line x1="141.21" y1="338.8" x2="141.21" y2="444.2" stroke="#EBEBEB" stroke-width="1"/>
<line x1="159.67" y1="338.8" x2="159.67" y2="444.2" stroke="#EBEBEB" stroke-width="1"/>
<line x1="178.12" y1="338.8" x2="178.12" y2="444.2" stroke="#EBEBEB" stroke-width="1"/>
<line x1="196.58" y1="338.8" x2="196.58" y2="444.2" stroke="#EBEBEB" stroke-width="1"/>
<line x1="215.03" y1="338.8" x2="215.03" y2="444.2" stroke="#EBEBEB" stroke-width="1"/>
<line x1="233.49" y1="338.8" x2="233.49" y2="444.2" stroke="#EBEBEB" stroke-width="1"/>
<line x1="136.60" y1="423.50" x2="238.10" y2="423.50" stroke="#2a2a2a" stroke-width="0.95" stroke-dasharray="2.7 1.9" stroke-dashoffset="0.4"/>
<circle cx="141.21" cy="345.06" r="2.2" fill="#F8766D"/>
<circle cx="150.44" cy="356.24" r="2.2" fill="#F8766D"/>
<circle cx="159.67" cy="365.83" r="2.2" fill="#F8766D"/>
<circle cx="168.90" cy="374.14" r="2.2" fill="#F8766D"/>
<circle cx="178.12" cy="377.66" r="2.2" fill="#F8766D"/>
<circle cx="187.35" cy="382.77" r="2.2" fill="#F8766D"/>
<circle cx="196.58" cy="384.53" r="2.2" fill="#F8766D"/>
<circle cx="205.80" cy="382.77" r="2.2" fill="#F8766D"/>
<circle cx="215.03" cy="388.36" r="2.2" fill="#F8766D"/>
<circle cx="224.26" cy="389.48" r="2.2" fill="#F8766D"/>
<circle cx="233.49" cy="388.04" r="2.2" fill="#F8766D"/>
<path d="M141.21,344.44 L143.84,348.99 L138.59,348.99 Z" fill="#619CFF"/>
<path d="M150.44,354.51 L153.07,359.06 L147.81,359.06 Z" fill="#619CFF"/>
<path d="M159.67,370.49 L162.29,375.04 L157.04,375.04 Z" fill="#619CFF"/>
<path d="M168.90,381.52 L171.52,386.07 L166.27,386.07 Z" fill="#619CFF"/>
<path d="M178.12,387.11 L180.75,391.66 L175.50,391.66 Z" fill="#619CFF"/>
<path d="M187.35,393.50 L189.98,398.05 L184.72,398.05 Z" fill="#619CFF"/>
<path d="M196.58,397.34 L199.20,401.89 L193.95,401.89 Z" fill="#619CFF"/>
<path d="M205.80,395.42 L208.43,399.97 L203.18,399.97 Z" fill="#619CFF"/>
<path d="M215.03,401.49 L217.66,406.04 L212.41,406.04 Z" fill="#619CFF"/>
<path d="M224.26,402.93 L226.89,407.48 L221.63,407.48 Z" fill="#619CFF"/>
<path d="M233.49,403.09 L236.11,407.64 L230.86,407.64 Z" fill="#619CFF"/>
<polyline points="141.21,347.48 150.44,357.54 159.67,373.52 168.90,384.55 178.12,390.14 187.35,396.53 196.58,400.37 205.80,398.45 215.03,404.52 224.26,405.96 233.49,406.12" fill="none" stroke="#619CFF" stroke-width="0.85"/>
<polyline points="141.21,345.06 150.44,356.24 159.67,365.83 168.90,374.14 178.12,377.66 187.35,382.77 196.58,384.53 205.80,382.77 215.03,388.36 224.26,389.48 233.49,388.04" fill="none" stroke="#F8766D" stroke-width="0.85"/>
<rect x="136.60" y="338.8" width="101.50" height="105.40" fill="none" stroke="#383838" stroke-width="1.05"/>
<rect x="243.65" y="338.8" width="101.50" height="105.40" fill="#fff"/>
<line x1="243.65" y1="343.40" x2="345.15" y2="343.40" stroke="#EBEBEB" stroke-width="1"/>
<line x1="243.65" y1="375.44" x2="345.15" y2="375.44" stroke="#EBEBEB" stroke-width="1"/>
<line x1="243.65" y1="407.48" x2="345.15" y2="407.48" stroke="#EBEBEB" stroke-width="1"/>
<line x1="243.65" y1="439.52" x2="345.15" y2="439.52" stroke="#EBEBEB" stroke-width="1"/>
<line x1="248.26" y1="338.8" x2="248.26" y2="444.2" stroke="#EBEBEB" stroke-width="1"/>
<line x1="266.72" y1="338.8" x2="266.72" y2="444.2" stroke="#EBEBEB" stroke-width="1"/>
<line x1="285.17" y1="338.8" x2="285.17" y2="444.2" stroke="#EBEBEB" stroke-width="1"/>
<line x1="303.63" y1="338.8" x2="303.63" y2="444.2" stroke="#EBEBEB" stroke-width="1"/>
<line x1="322.08" y1="338.8" x2="322.08" y2="444.2" stroke="#EBEBEB" stroke-width="1"/>
<line x1="340.54" y1="338.8" x2="340.54" y2="444.2" stroke="#EBEBEB" stroke-width="1"/>
<line x1="243.65" y1="423.50" x2="345.15" y2="423.50" stroke="#2a2a2a" stroke-width="0.95" stroke-dasharray="2.7 1.9" stroke-dashoffset="0.4"/>
<circle cx="248.26" cy="343.46" r="2.2" fill="#F8766D"/>
<circle cx="257.49" cy="343.46" r="2.2" fill="#F8766D"/>
<circle cx="266.72" cy="343.46" r="2.2" fill="#F8766D"/>
<circle cx="275.95" cy="343.94" r="2.2" fill="#F8766D"/>
<circle cx="285.17" cy="345.06" r="2.2" fill="#F8766D"/>
<circle cx="294.40" cy="346.98" r="2.2" fill="#F8766D"/>
<circle cx="303.63" cy="349.53" r="2.2" fill="#F8766D"/>
<circle cx="312.85" cy="353.21" r="2.2" fill="#F8766D"/>
<circle cx="322.08" cy="357.84" r="2.2" fill="#F8766D"/>
<circle cx="331.31" cy="362.64" r="2.2" fill="#F8766D"/>
<circle cx="340.54" cy="366.95" r="2.2" fill="#F8766D"/>
<path d="M248.26,340.77 L250.89,345.32 L245.64,345.32 Z" fill="#619CFF"/>
<path d="M257.49,340.77 L260.12,345.32 L254.86,345.32 Z" fill="#619CFF"/>
<path d="M266.72,340.77 L269.34,345.32 L264.09,345.32 Z" fill="#619CFF"/>
<path d="M275.95,341.73 L278.57,346.28 L273.32,346.28 Z" fill="#619CFF"/>
<path d="M285.17,343.64 L287.80,348.19 L282.55,348.19 Z" fill="#619CFF"/>
<path d="M294.40,346.68 L297.03,351.23 L291.77,351.23 Z" fill="#619CFF"/>
<path d="M303.63,350.36 L306.25,354.91 L301.00,354.91 Z" fill="#619CFF"/>
<path d="M312.85,355.63 L315.48,360.18 L310.23,360.18 Z" fill="#619CFF"/>
<path d="M322.08,362.34 L324.71,366.89 L319.46,366.89 Z" fill="#619CFF"/>
<path d="M331.31,368.25 L333.94,372.80 L328.68,372.80 Z" fill="#619CFF"/>
<path d="M340.54,374.49 L343.16,379.03 L337.91,379.03 Z" fill="#619CFF"/>
<polyline points="248.26,343.80 257.49,343.80 266.72,343.80 275.95,344.76 285.17,346.68 294.40,349.71 303.63,353.39 312.85,358.66 322.08,365.37 331.31,371.29 340.54,377.52" fill="none" stroke="#619CFF" stroke-width="0.85"/>
<polyline points="248.26,343.46 257.49,343.46 266.72,343.46 275.95,343.94 285.17,345.06 294.40,346.98 303.63,349.53 312.85,353.21 322.08,357.84 331.31,362.64 340.54,366.95" fill="none" stroke="#F8766D" stroke-width="0.85"/>
<rect x="243.65" y="338.8" width="101.50" height="105.40" fill="none" stroke="#383838" stroke-width="1.05"/>
<rect x="350.65" y="338.8" width="101.50" height="105.40" fill="#fff"/>
<line x1="350.65" y1="343.40" x2="452.15" y2="343.40" stroke="#EBEBEB" stroke-width="1"/>
<line x1="350.65" y1="375.44" x2="452.15" y2="375.44" stroke="#EBEBEB" stroke-width="1"/>
<line x1="350.65" y1="407.48" x2="452.15" y2="407.48" stroke="#EBEBEB" stroke-width="1"/>
<line x1="350.65" y1="439.52" x2="452.15" y2="439.52" stroke="#EBEBEB" stroke-width="1"/>
<line x1="355.26" y1="338.8" x2="355.26" y2="444.2" stroke="#EBEBEB" stroke-width="1"/>
<line x1="373.72" y1="338.8" x2="373.72" y2="444.2" stroke="#EBEBEB" stroke-width="1"/>
<line x1="392.17" y1="338.8" x2="392.17" y2="444.2" stroke="#EBEBEB" stroke-width="1"/>
<line x1="410.63" y1="338.8" x2="410.63" y2="444.2" stroke="#EBEBEB" stroke-width="1"/>
<line x1="429.08" y1="338.8" x2="429.08" y2="444.2" stroke="#EBEBEB" stroke-width="1"/>
<line x1="447.54" y1="338.8" x2="447.54" y2="444.2" stroke="#EBEBEB" stroke-width="1"/>
<line x1="350.65" y1="423.50" x2="452.15" y2="423.50" stroke="#2a2a2a" stroke-width="0.95" stroke-dasharray="2.7 1.9" stroke-dashoffset="0.4"/>
<circle cx="355.26" cy="362.48" r="2.2" fill="#F8766D"/>
<circle cx="364.49" cy="391.08" r="2.2" fill="#F8766D"/>
<circle cx="373.72" cy="401.79" r="2.2" fill="#F8766D"/>
<circle cx="382.95" cy="411.85" r="2.2" fill="#F8766D"/>
<circle cx="392.17" cy="419.21" r="2.2" fill="#F8766D"/>
<circle cx="401.40" cy="420.00" r="2.2" fill="#F8766D"/>
<circle cx="410.63" cy="421.60" r="2.2" fill="#F8766D"/>
<circle cx="419.85" cy="420.00" r="2.2" fill="#F8766D"/>
<circle cx="429.08" cy="420.00" r="2.2" fill="#F8766D"/>
<circle cx="438.31" cy="419.52" r="2.2" fill="#F8766D"/>
<circle cx="447.54" cy="417.93" r="2.2" fill="#F8766D"/>
<path d="M355.26,363.30 L357.89,367.85 L352.64,367.85 Z" fill="#619CFF"/>
<path d="M364.49,394.94 L367.12,399.49 L361.86,399.49 Z" fill="#619CFF"/>
<path d="M373.72,407.88 L376.34,412.43 L371.09,412.43 Z" fill="#619CFF"/>
<path d="M382.95,415.39 L385.57,419.94 L380.32,419.94 Z" fill="#619CFF"/>
<path d="M392.17,420.67 L394.80,425.22 L389.55,425.22 Z" fill="#619CFF"/>
<path d="M401.40,419.39 L404.03,423.94 L398.77,423.94 Z" fill="#619CFF"/>
<path d="M410.63,417.79 L413.25,422.34 L408.00,422.34 Z" fill="#619CFF"/>
<path d="M419.85,418.59 L422.48,423.14 L417.23,423.14 Z" fill="#619CFF"/>
<path d="M429.08,417.47 L431.71,422.02 L426.46,422.02 Z" fill="#619CFF"/>
<path d="M438.31,418.75 L440.94,423.30 L435.68,423.30 Z" fill="#619CFF"/>
<path d="M447.54,418.59 L450.16,423.14 L444.91,423.14 Z" fill="#619CFF"/>
<polyline points="355.26,366.33 364.49,397.97 373.72,410.92 382.95,418.43 392.17,423.70 401.40,422.42 410.63,420.82 419.85,421.62 429.08,420.50 438.31,421.78 447.54,421.62" fill="none" stroke="#619CFF" stroke-width="0.85"/>
<polyline points="355.26,362.48 364.49,391.08 373.72,401.79 382.95,411.85 392.17,419.21 401.40,420.00 410.63,421.60 419.85,420.00 429.08,420.00 438.31,419.52 447.54,417.93" fill="none" stroke="#F8766D" stroke-width="0.85"/>
<rect x="350.65" y="338.8" width="101.50" height="105.40" fill="none" stroke="#383838" stroke-width="1.05"/>
<rect x="457.65" y="338.8" width="101.50" height="105.40" fill="#fff"/>
<line x1="457.65" y1="343.40" x2="559.15" y2="343.40" stroke="#EBEBEB" stroke-width="1"/>
<line x1="457.65" y1="375.44" x2="559.15" y2="375.44" stroke="#EBEBEB" stroke-width="1"/>
<line x1="457.65" y1="407.48" x2="559.15" y2="407.48" stroke="#EBEBEB" stroke-width="1"/>
<line x1="457.65" y1="439.52" x2="559.15" y2="439.52" stroke="#EBEBEB" stroke-width="1"/>
<line x1="462.26" y1="338.8" x2="462.26" y2="444.2" stroke="#EBEBEB" stroke-width="1"/>
<line x1="480.72" y1="338.8" x2="480.72" y2="444.2" stroke="#EBEBEB" stroke-width="1"/>
<line x1="499.17" y1="338.8" x2="499.17" y2="444.2" stroke="#EBEBEB" stroke-width="1"/>
<line x1="517.63" y1="338.8" x2="517.63" y2="444.2" stroke="#EBEBEB" stroke-width="1"/>
<line x1="536.08" y1="338.8" x2="536.08" y2="444.2" stroke="#EBEBEB" stroke-width="1"/>
<line x1="554.54" y1="338.8" x2="554.54" y2="444.2" stroke="#EBEBEB" stroke-width="1"/>
<line x1="457.65" y1="423.50" x2="559.15" y2="423.50" stroke="#2a2a2a" stroke-width="0.95" stroke-dasharray="2.7 1.9" stroke-dashoffset="0.4"/>
<circle cx="462.26" cy="357.68" r="2.2" fill="#F8766D"/>
<circle cx="471.49" cy="358.64" r="2.2" fill="#F8766D"/>
<circle cx="480.72" cy="374.46" r="2.2" fill="#F8766D"/>
<circle cx="489.95" cy="386.93" r="2.2" fill="#F8766D"/>
<circle cx="499.17" cy="395.55" r="2.2" fill="#F8766D"/>
<circle cx="508.40" cy="403.54" r="2.2" fill="#F8766D"/>
<circle cx="517.63" cy="409.14" r="2.2" fill="#F8766D"/>
<circle cx="526.85" cy="413.93" r="2.2" fill="#F8766D"/>
<circle cx="536.08" cy="417.77" r="2.2" fill="#F8766D"/>
<circle cx="545.31" cy="422.24" r="2.2" fill="#F8766D"/>
<circle cx="554.54" cy="427.04" r="2.2" fill="#F8766D"/>
<path d="M462.26,362.34 L464.89,366.89 L459.64,366.89 Z" fill="#619CFF"/>
<path d="M471.49,359.62 L474.12,364.17 L468.86,364.17 Z" fill="#619CFF"/>
<path d="M480.72,378.16 L483.34,382.71 L478.09,382.71 Z" fill="#619CFF"/>
<path d="M489.95,390.47 L492.57,395.01 L487.32,395.01 Z" fill="#619CFF"/>
<path d="M499.17,398.14 L501.80,402.69 L496.55,402.69 Z" fill="#619CFF"/>
<path d="M508.40,406.29 L511.03,410.84 L505.77,410.84 Z" fill="#619CFF"/>
<path d="M517.63,411.24 L520.25,415.79 L515.00,415.79 Z" fill="#619CFF"/>
<path d="M526.85,415.23 L529.48,419.78 L524.23,419.78 Z" fill="#619CFF"/>
<path d="M536.08,418.91 L538.71,423.46 L533.46,423.46 Z" fill="#619CFF"/>
<path d="M545.31,423.54 L547.94,428.09 L542.68,428.09 Z" fill="#619CFF"/>
<path d="M554.54,427.54 L557.16,432.09 L551.91,432.09 Z" fill="#619CFF"/>
<polyline points="462.26,365.37 471.49,362.66 480.72,381.19 489.95,393.50 499.17,401.17 508.40,409.32 517.63,414.27 526.85,418.27 536.08,421.94 545.31,426.58 554.54,430.57" fill="none" stroke="#619CFF" stroke-width="0.85"/>
<polyline points="462.26,357.68 471.49,358.64 480.72,374.46 489.95,386.93 499.17,395.55 508.40,403.54 517.63,409.14 526.85,413.93 536.08,417.77 545.31,422.24 554.54,427.04" fill="none" stroke="#F8766D" stroke-width="0.85"/>
<rect x="457.65" y="338.8" width="101.50" height="105.40" fill="none" stroke="#383838" stroke-width="1.05"/>
<rect x="564.60" y="338.8" width="101.50" height="105.40" fill="#fff"/>
<line x1="564.60" y1="343.40" x2="666.10" y2="343.40" stroke="#EBEBEB" stroke-width="1"/>
<line x1="564.60" y1="375.44" x2="666.10" y2="375.44" stroke="#EBEBEB" stroke-width="1"/>
<line x1="564.60" y1="407.48" x2="666.10" y2="407.48" stroke="#EBEBEB" stroke-width="1"/>
<line x1="564.60" y1="439.52" x2="666.10" y2="439.52" stroke="#EBEBEB" stroke-width="1"/>
<line x1="569.21" y1="338.8" x2="569.21" y2="444.2" stroke="#EBEBEB" stroke-width="1"/>
<line x1="587.67" y1="338.8" x2="587.67" y2="444.2" stroke="#EBEBEB" stroke-width="1"/>
<line x1="606.12" y1="338.8" x2="606.12" y2="444.2" stroke="#EBEBEB" stroke-width="1"/>
<line x1="624.58" y1="338.8" x2="624.58" y2="444.2" stroke="#EBEBEB" stroke-width="1"/>
<line x1="643.03" y1="338.8" x2="643.03" y2="444.2" stroke="#EBEBEB" stroke-width="1"/>
<line x1="661.49" y1="338.8" x2="661.49" y2="444.2" stroke="#EBEBEB" stroke-width="1"/>
<line x1="564.60" y1="423.50" x2="666.10" y2="423.50" stroke="#2a2a2a" stroke-width="0.95" stroke-dasharray="2.7 1.9" stroke-dashoffset="0.4"/>
<circle cx="569.21" cy="343.46" r="2.2" fill="#F8766D"/>
<circle cx="578.44" cy="345.38" r="2.2" fill="#F8766D"/>
<circle cx="587.67" cy="346.66" r="2.2" fill="#F8766D"/>
<circle cx="596.90" cy="349.53" r="2.2" fill="#F8766D"/>
<circle cx="606.12" cy="352.41" r="2.2" fill="#F8766D"/>
<circle cx="615.35" cy="353.85" r="2.2" fill="#F8766D"/>
<circle cx="624.58" cy="355.92" r="2.2" fill="#F8766D"/>
<circle cx="633.80" cy="356.24" r="2.2" fill="#F8766D"/>
<circle cx="643.03" cy="357.68" r="2.2" fill="#F8766D"/>
<circle cx="652.26" cy="358.80" r="2.2" fill="#F8766D"/>
<circle cx="661.49" cy="358.48" r="2.2" fill="#F8766D"/>
<path d="M569.21,341.41 L571.84,345.96 L566.59,345.96 Z" fill="#619CFF"/>
<path d="M578.44,344.60 L581.07,349.15 L575.81,349.15 Z" fill="#619CFF"/>
<path d="M587.67,349.24 L590.29,353.79 L585.04,353.79 Z" fill="#619CFF"/>
<path d="M596.90,352.27 L599.52,356.82 L594.27,356.82 Z" fill="#619CFF"/>
<path d="M606.12,354.35 L608.75,358.90 L603.50,358.90 Z" fill="#619CFF"/>
<path d="M615.35,355.63 L617.98,360.18 L612.72,360.18 Z" fill="#619CFF"/>
<path d="M624.58,357.55 L627.20,362.10 L621.95,362.10 Z" fill="#619CFF"/>
<path d="M633.80,358.03 L636.43,362.58 L631.18,362.58 Z" fill="#619CFF"/>
<path d="M643.03,358.83 L645.66,363.37 L640.41,363.37 Z" fill="#619CFF"/>
<path d="M652.26,360.74 L654.89,365.29 L649.63,365.29 Z" fill="#619CFF"/>
<path d="M661.49,360.42 L664.11,364.97 L658.86,364.97 Z" fill="#619CFF"/>
<polyline points="569.21,344.44 578.44,347.64 587.67,352.27 596.90,355.31 606.12,357.38 615.35,358.66 624.58,360.58 633.80,361.06 643.03,361.86 652.26,363.78 661.49,363.46" fill="none" stroke="#619CFF" stroke-width="0.85"/>
<polyline points="569.21,343.46 578.44,345.38 587.67,346.66 596.90,349.53 606.12,352.41 615.35,353.85 624.58,355.92 633.80,356.24 643.03,357.68 652.26,358.80 661.49,358.48" fill="none" stroke="#F8766D" stroke-width="0.85"/>
<rect x="573.2" y="414.5" width="84.4" height="21.5" fill="#fff"/>
<line x1="579" y1="420.3" x2="597.2" y2="420.3" stroke="#619CFF" stroke-width="0.7"/>
<path d="M588.10,417.97 L590.73,422.52 L585.47,422.52 Z" fill="#619CFF"/>
<line x1="579" y1="429.7" x2="597.2" y2="429.7" stroke="#F8766D" stroke-width="0.7"/>
<circle cx="588.1" cy="429.7" r="2.2" fill="#F8766D"/>
<text x="605" y="423.6" font-size="8.6" fill="#000" stroke="#000" stroke-width="0.16">Standard</text>
<text x="605" y="433" font-size="8.6" fill="#000" stroke="#000" stroke-width="0.16">Prior&#8211;trained</text>
<rect x="564.60" y="338.8" width="101.50" height="105.40" fill="none" stroke="#383838" stroke-width="1.05"/>
<rect x="29.50" y="211.2" width="101.50" height="16.15" fill="#D9D9D9" stroke="#383838" stroke-width="1.05"/>
<text x="80.25" y="222.8" font-size="8.7" text-anchor="middle" fill="#1A1A1A" stroke="#1A1A1A" stroke-width="0.16">intensifier_adv</text>
<rect x="136.60" y="211.2" width="101.50" height="16.15" fill="#D9D9D9" stroke="#383838" stroke-width="1.05"/>
<text x="187.35" y="222.8" font-size="8.7" text-anchor="middle" fill="#1A1A1A" stroke="#1A1A1A" stroke-width="0.16">intensifier_adj</text>
<rect x="243.65" y="211.2" width="101.50" height="16.15" fill="#D9D9D9" stroke="#383838" stroke-width="1.05"/>
<text x="294.40" y="222.8" font-size="8.7" text-anchor="middle" fill="#1A1A1A" stroke="#1A1A1A" stroke-width="0.16">possessive_1obj</text>
<rect x="350.65" y="211.2" width="101.50" height="16.15" fill="#D9D9D9" stroke="#383838" stroke-width="1.05"/>
<text x="401.40" y="222.8" font-size="8.7" text-anchor="middle" fill="#1A1A1A" stroke="#1A1A1A" stroke-width="0.16">possessive_2obj</text>
<rect x="457.65" y="211.2" width="101.50" height="16.15" fill="#D9D9D9" stroke="#383838" stroke-width="1.05"/>
<text x="508.40" y="222.8" font-size="8.7" text-anchor="middle" fill="#1A1A1A" stroke="#1A1A1A" stroke-width="0.16">pp_verb</text>
<rect x="564.60" y="211.2" width="101.50" height="16.15" fill="#D9D9D9" stroke="#383838" stroke-width="1.05"/>
<text x="615.35" y="222.8" font-size="8.7" text-anchor="middle" fill="#1A1A1A" stroke="#1A1A1A" stroke-width="0.16">pp_is</text>
<rect x="666.10" y="227.35" width="16.25" height="105.90" fill="#D9D9D9" stroke="#383838" stroke-width="1.05"/>
<text x="0" y="0" font-size="8.65" text-anchor="middle" fill="#1A1A1A" transform="translate(671.12,280.30) rotate(90)" stroke="#1A1A1A" stroke-width="0.16">Plausible</text>
<rect x="666.10" y="338.8" width="16.25" height="105.40" fill="#D9D9D9" stroke="#383838" stroke-width="1.05"/>
<text x="0" y="0" font-size="8.65" text-anchor="middle" fill="#1A1A1A" transform="translate(671.12,391.50) rotate(90)" stroke="#1A1A1A" stroke-width="0.16">Implausible</text>
<line x1="26.6" y1="232.30" x2="29.5" y2="232.30" stroke="#383838" stroke-width="1"/>
<text transform="translate(24.6,232.30) scale(1,1.14)" y="3.1" font-size="8.5" text-anchor="end" fill="#4D4D4D" stroke="#4D4D4D" stroke-width="0.16">1.0</text>
<line x1="26.6" y1="264.34" x2="29.5" y2="264.34" stroke="#383838" stroke-width="1"/>
<text transform="translate(24.6,264.34) scale(1,1.14)" y="3.1" font-size="8.5" text-anchor="end" fill="#4D4D4D" stroke="#4D4D4D" stroke-width="0.16">0.8</text>
<line x1="26.6" y1="296.38" x2="29.5" y2="296.38" stroke="#383838" stroke-width="1"/>
<text transform="translate(24.6,296.38) scale(1,1.14)" y="3.1" font-size="8.5" text-anchor="end" fill="#4D4D4D" stroke="#4D4D4D" stroke-width="0.16">0.6</text>
<line x1="26.6" y1="328.42" x2="29.5" y2="328.42" stroke="#383838" stroke-width="1"/>
<text transform="translate(24.6,328.42) scale(1,1.14)" y="3.1" font-size="8.5" text-anchor="end" fill="#4D4D4D" stroke="#4D4D4D" stroke-width="0.16">0.4</text>
<line x1="26.6" y1="343.40" x2="29.5" y2="343.40" stroke="#383838" stroke-width="1"/>
<text transform="translate(24.6,343.40) scale(1,1.14)" y="3.1" font-size="8.5" text-anchor="end" fill="#4D4D4D" stroke="#4D4D4D" stroke-width="0.16">1.0</text>
<line x1="26.6" y1="375.44" x2="29.5" y2="375.44" stroke="#383838" stroke-width="1"/>
<text transform="translate(24.6,375.44) scale(1,1.14)" y="3.1" font-size="8.5" text-anchor="end" fill="#4D4D4D" stroke="#4D4D4D" stroke-width="0.16">0.8</text>
<line x1="26.6" y1="407.48" x2="29.5" y2="407.48" stroke="#383838" stroke-width="1"/>
<text transform="translate(24.6,407.48) scale(1,1.14)" y="3.1" font-size="8.5" text-anchor="end" fill="#4D4D4D" stroke="#4D4D4D" stroke-width="0.16">0.6</text>
<line x1="26.6" y1="439.52" x2="29.5" y2="439.52" stroke="#383838" stroke-width="1"/>
<text transform="translate(24.6,439.52) scale(1,1.14)" y="3.1" font-size="8.5" text-anchor="end" fill="#4D4D4D" stroke="#4D4D4D" stroke-width="0.16">0.4</text>
<line x1="34.11" y1="444.2" x2="34.11" y2="446.8" stroke="#383838" stroke-width="1"/>
<text x="34.11" y="455.5" font-size="8.4" text-anchor="middle" fill="#4D4D4D" stroke="#4D4D4D" stroke-width="0.16">0</text>
<line x1="52.57" y1="444.2" x2="52.57" y2="446.8" stroke="#383838" stroke-width="1"/>
<text x="52.57" y="455.5" font-size="8.4" text-anchor="middle" fill="#4D4D4D" stroke="#4D4D4D" stroke-width="0.16">2</text>
<line x1="71.02" y1="444.2" x2="71.02" y2="446.8" stroke="#383838" stroke-width="1"/>
<text x="71.02" y="455.5" font-size="8.4" text-anchor="middle" fill="#4D4D4D" stroke="#4D4D4D" stroke-width="0.16">4</text>
<line x1="89.48" y1="444.2" x2="89.48" y2="446.8" stroke="#383838" stroke-width="1"/>
<text x="89.48" y="455.5" font-size="8.4" text-anchor="middle" fill="#4D4D4D" stroke="#4D4D4D" stroke-width="0.16">6</text>
<line x1="107.93" y1="444.2" x2="107.93" y2="446.8" stroke="#383838" stroke-width="1"/>
<text x="107.93" y="455.5" font-size="8.4" text-anchor="middle" fill="#4D4D4D" stroke="#4D4D4D" stroke-width="0.16">8</text>
<line x1="126.39" y1="444.2" x2="126.39" y2="446.8" stroke="#383838" stroke-width="1"/>
<text x="126.39" y="455.5" font-size="8.4" text-anchor="middle" fill="#4D4D4D" stroke="#4D4D4D" stroke-width="0.16">10</text>
<line x1="141.21" y1="444.2" x2="141.21" y2="446.8" stroke="#383838" stroke-width="1"/>
<text x="141.21" y="455.5" font-size="8.4" text-anchor="middle" fill="#4D4D4D" stroke="#4D4D4D" stroke-width="0.16">0</text>
<line x1="159.67" y1="444.2" x2="159.67" y2="446.8" stroke="#383838" stroke-width="1"/>
<text x="159.67" y="455.5" font-size="8.4" text-anchor="middle" fill="#4D4D4D" stroke="#4D4D4D" stroke-width="0.16">2</text>
<line x1="178.12" y1="444.2" x2="178.12" y2="446.8" stroke="#383838" stroke-width="1"/>
<text x="178.12" y="455.5" font-size="8.4" text-anchor="middle" fill="#4D4D4D" stroke="#4D4D4D" stroke-width="0.16">4</text>
<line x1="196.58" y1="444.2" x2="196.58" y2="446.8" stroke="#383838" stroke-width="1"/>
<text x="196.58" y="455.5" font-size="8.4" text-anchor="middle" fill="#4D4D4D" stroke="#4D4D4D" stroke-width="0.16">6</text>
<line x1="215.03" y1="444.2" x2="215.03" y2="446.8" stroke="#383838" stroke-width="1"/>
<text x="215.03" y="455.5" font-size="8.4" text-anchor="middle" fill="#4D4D4D" stroke="#4D4D4D" stroke-width="0.16">8</text>
<line x1="233.49" y1="444.2" x2="233.49" y2="446.8" stroke="#383838" stroke-width="1"/>
<text x="233.49" y="455.5" font-size="8.4" text-anchor="middle" fill="#4D4D4D" stroke="#4D4D4D" stroke-width="0.16">10</text>
<line x1="248.26" y1="444.2" x2="248.26" y2="446.8" stroke="#383838" stroke-width="1"/>
<text x="248.26" y="455.5" font-size="8.4" text-anchor="middle" fill="#4D4D4D" stroke="#4D4D4D" stroke-width="0.16">0</text>
<line x1="266.72" y1="444.2" x2="266.72" y2="446.8" stroke="#383838" stroke-width="1"/>
<text x="266.72" y="455.5" font-size="8.4" text-anchor="middle" fill="#4D4D4D" stroke="#4D4D4D" stroke-width="0.16">2</text>
<line x1="285.17" y1="444.2" x2="285.17" y2="446.8" stroke="#383838" stroke-width="1"/>
<text x="285.17" y="455.5" font-size="8.4" text-anchor="middle" fill="#4D4D4D" stroke="#4D4D4D" stroke-width="0.16">4</text>
<line x1="303.63" y1="444.2" x2="303.63" y2="446.8" stroke="#383838" stroke-width="1"/>
<text x="303.63" y="455.5" font-size="8.4" text-anchor="middle" fill="#4D4D4D" stroke="#4D4D4D" stroke-width="0.16">6</text>
<line x1="322.08" y1="444.2" x2="322.08" y2="446.8" stroke="#383838" stroke-width="1"/>
<text x="322.08" y="455.5" font-size="8.4" text-anchor="middle" fill="#4D4D4D" stroke="#4D4D4D" stroke-width="0.16">8</text>
<line x1="340.54" y1="444.2" x2="340.54" y2="446.8" stroke="#383838" stroke-width="1"/>
<text x="340.54" y="455.5" font-size="8.4" text-anchor="middle" fill="#4D4D4D" stroke="#4D4D4D" stroke-width="0.16">10</text>
<line x1="355.26" y1="444.2" x2="355.26" y2="446.8" stroke="#383838" stroke-width="1"/>
<text x="355.26" y="455.5" font-size="8.4" text-anchor="middle" fill="#4D4D4D" stroke="#4D4D4D" stroke-width="0.16">0</text>
<line x1="373.72" y1="444.2" x2="373.72" y2="446.8" stroke="#383838" stroke-width="1"/>
<text x="373.72" y="455.5" font-size="8.4" text-anchor="middle" fill="#4D4D4D" stroke="#4D4D4D" stroke-width="0.16">2</text>
<line x1="392.17" y1="444.2" x2="392.17" y2="446.8" stroke="#383838" stroke-width="1"/>
<text x="392.17" y="455.5" font-size="8.4" text-anchor="middle" fill="#4D4D4D" stroke="#4D4D4D" stroke-width="0.16">4</text>
<line x1="410.63" y1="444.2" x2="410.63" y2="446.8" stroke="#383838" stroke-width="1"/>
<text x="410.63" y="455.5" font-size="8.4" text-anchor="middle" fill="#4D4D4D" stroke="#4D4D4D" stroke-width="0.16">6</text>
<line x1="429.08" y1="444.2" x2="429.08" y2="446.8" stroke="#383838" stroke-width="1"/>
<text x="429.08" y="455.5" font-size="8.4" text-anchor="middle" fill="#4D4D4D" stroke="#4D4D4D" stroke-width="0.16">8</text>
<line x1="447.54" y1="444.2" x2="447.54" y2="446.8" stroke="#383838" stroke-width="1"/>
<text x="447.54" y="455.5" font-size="8.4" text-anchor="middle" fill="#4D4D4D" stroke="#4D4D4D" stroke-width="0.16">10</text>
<line x1="462.26" y1="444.2" x2="462.26" y2="446.8" stroke="#383838" stroke-width="1"/>
<text x="462.26" y="455.5" font-size="8.4" text-anchor="middle" fill="#4D4D4D" stroke="#4D4D4D" stroke-width="0.16">0</text>
<line x1="480.72" y1="444.2" x2="480.72" y2="446.8" stroke="#383838" stroke-width="1"/>
<text x="480.72" y="455.5" font-size="8.4" text-anchor="middle" fill="#4D4D4D" stroke="#4D4D4D" stroke-width="0.16">2</text>
<line x1="499.17" y1="444.2" x2="499.17" y2="446.8" stroke="#383838" stroke-width="1"/>
<text x="499.17" y="455.5" font-size="8.4" text-anchor="middle" fill="#4D4D4D" stroke="#4D4D4D" stroke-width="0.16">4</text>
<line x1="517.63" y1="444.2" x2="517.63" y2="446.8" stroke="#383838" stroke-width="1"/>
<text x="517.63" y="455.5" font-size="8.4" text-anchor="middle" fill="#4D4D4D" stroke="#4D4D4D" stroke-width="0.16">6</text>
<line x1="536.08" y1="444.2" x2="536.08" y2="446.8" stroke="#383838" stroke-width="1"/>
<text x="536.08" y="455.5" font-size="8.4" text-anchor="middle" fill="#4D4D4D" stroke="#4D4D4D" stroke-width="0.16">8</text>
<line x1="554.54" y1="444.2" x2="554.54" y2="446.8" stroke="#383838" stroke-width="1"/>
<text x="554.54" y="455.5" font-size="8.4" text-anchor="middle" fill="#4D4D4D" stroke="#4D4D4D" stroke-width="0.16">10</text>
<line x1="569.21" y1="444.2" x2="569.21" y2="446.8" stroke="#383838" stroke-width="1"/>
<text x="569.21" y="455.5" font-size="8.4" text-anchor="middle" fill="#4D4D4D" stroke="#4D4D4D" stroke-width="0.16">0</text>
<line x1="587.67" y1="444.2" x2="587.67" y2="446.8" stroke="#383838" stroke-width="1"/>
<text x="587.67" y="455.5" font-size="8.4" text-anchor="middle" fill="#4D4D4D" stroke="#4D4D4D" stroke-width="0.16">2</text>
<line x1="606.12" y1="444.2" x2="606.12" y2="446.8" stroke="#383838" stroke-width="1"/>
<text x="606.12" y="455.5" font-size="8.4" text-anchor="middle" fill="#4D4D4D" stroke="#4D4D4D" stroke-width="0.16">4</text>
<line x1="624.58" y1="444.2" x2="624.58" y2="446.8" stroke="#383838" stroke-width="1"/>
<text x="624.58" y="455.5" font-size="8.4" text-anchor="middle" fill="#4D4D4D" stroke="#4D4D4D" stroke-width="0.16">6</text>
<line x1="643.03" y1="444.2" x2="643.03" y2="446.8" stroke="#383838" stroke-width="1"/>
<text x="643.03" y="455.5" font-size="8.4" text-anchor="middle" fill="#4D4D4D" stroke="#4D4D4D" stroke-width="0.16">8</text>
<line x1="661.49" y1="444.2" x2="661.49" y2="446.8" stroke="#383838" stroke-width="1"/>
<text x="661.49" y="455.5" font-size="8.4" text-anchor="middle" fill="#4D4D4D" stroke="#4D4D4D" stroke-width="0.16">10</text>
<text x="0" y="0" font-size="10.5" text-anchor="middle" fill="#000" transform="translate(8.8,335.9) rotate(-90)" stroke="#000" stroke-width="0.22">Accuracy</text>
<text x="347.8" y="467.5" font-size="10.5" text-anchor="middle" fill="#000" stroke="#000" stroke-width="0.22">Levels of recursion</text>
</svg></div>
</body></html>
